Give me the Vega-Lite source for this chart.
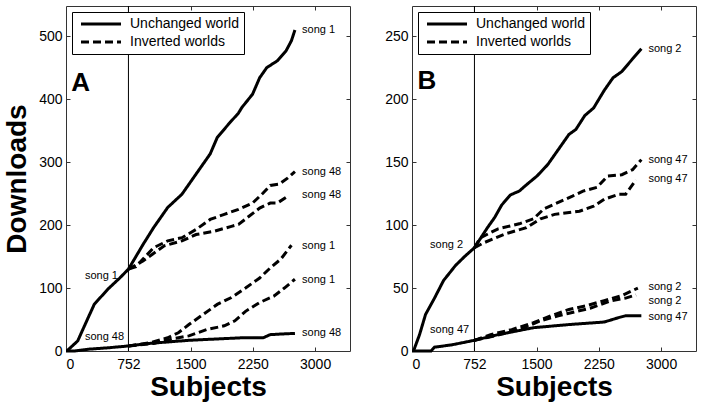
{
  "$schema": "https://vega.github.io/schema/vega-lite/v6.json",
  "padding": {"left": 3, "top": 5, "right": 0, "bottom": 0},
  "bounds": "flush",
  "spacing": 62,
  "datasets": {
    "linesA": [
      {"s":"u1","w":"Unchanged world","x":10,"y":0},{"s":"u1","w":"Unchanged world","x":141,"y":16},{"s":"u1","w":"Unchanged world","x":250,"y":48},{"s":"u1","w":"Unchanged world","x":340,"y":74},{"s":"u1","w":"Unchanged world","x":502,"y":98},{"s":"u1","w":"Unchanged world","x":648,"y":116},{"s":"u1","w":"Unchanged world","x":752,"y":130},{"s":"u1","w":"Unchanged world","x":927,"y":169},{"s":"u1","w":"Unchanged world","x":1055,"y":196},{"s":"u1","w":"Unchanged world","x":1225,"y":228},{"s":"u1","w":"Unchanged world","x":1396,"y":249},{"s":"u1","w":"Unchanged world","x":1566,"y":281},{"s":"u1","w":"Unchanged world","x":1736,"y":313},{"s":"u1","w":"Unchanged world","x":1821,"y":339},{"s":"u1","w":"Unchanged world","x":1949,"y":359},{"s":"u1","w":"Unchanged world","x":2077,"y":378},{"s":"u1","w":"Unchanged world","x":2119,"y":387},{"s":"u1","w":"Unchanged world","x":2247,"y":408},{"s":"u1","w":"Unchanged world","x":2332,"y":434},{"s":"u1","w":"Unchanged world","x":2417,"y":450},{"s":"u1","w":"Unchanged world","x":2545,"y":461},{"s":"u1","w":"Unchanged world","x":2651,"y":477},{"s":"u1","w":"Unchanged world","x":2715,"y":493},{"s":"u1","w":"Unchanged world","x":2757,"y":510},
      {"s":"u48","w":"Unchanged world","x":0,"y":0},{"s":"u48","w":"Unchanged world","x":100,"y":0},{"s":"u48","w":"Unchanged world","x":285,"y":3},{"s":"u48","w":"Unchanged world","x":500,"y":5},{"s":"u48","w":"Unchanged world","x":752,"y":8},{"s":"u48","w":"Unchanged world","x":1000,"y":12},{"s":"u48","w":"Unchanged world","x":1480,"y":17},{"s":"u48","w":"Unchanged world","x":1800,"y":19},{"s":"u48","w":"Unchanged world","x":2119,"y":21},{"s":"u48","w":"Unchanged world","x":2374,"y":21},{"s":"u48","w":"Unchanged world","x":2460,"y":26},{"s":"u48","w":"Unchanged world","x":2600,"y":27},{"s":"u48","w":"Unchanged world","x":2757,"y":28},
      {"s":"i48a","w":"Inverted worlds","x":752,"y":130},{"s":"i48a","w":"Inverted worlds","x":842,"y":134},{"s":"i48a","w":"Inverted worlds","x":1055,"y":164},{"s":"i48a","w":"Inverted worlds","x":1225,"y":175},{"s":"i48a","w":"Inverted worlds","x":1396,"y":180},{"s":"i48a","w":"Inverted worlds","x":1566,"y":193},{"s":"i48a","w":"Inverted worlds","x":1736,"y":209},{"s":"i48a","w":"Inverted worlds","x":1906,"y":217},{"s":"i48a","w":"Inverted worlds","x":2077,"y":225},{"s":"i48a","w":"Inverted worlds","x":2247,"y":235},{"s":"i48a","w":"Inverted worlds","x":2374,"y":251},{"s":"i48a","w":"Inverted worlds","x":2460,"y":263},{"s":"i48a","w":"Inverted worlds","x":2566,"y":265},{"s":"i48a","w":"Inverted worlds","x":2672,"y":275},{"s":"i48a","w":"Inverted worlds","x":2757,"y":285},
      {"s":"i48b","w":"Inverted worlds","x":752,"y":130},{"s":"i48b","w":"Inverted worlds","x":927,"y":143},{"s":"i48b","w":"Inverted worlds","x":1183,"y":167},{"s":"i48b","w":"Inverted worlds","x":1396,"y":175},{"s":"i48b","w":"Inverted worlds","x":1566,"y":185},{"s":"i48b","w":"Inverted worlds","x":1779,"y":190},{"s":"i48b","w":"Inverted worlds","x":1992,"y":198},{"s":"i48b","w":"Inverted worlds","x":2077,"y":201},{"s":"i48b","w":"Inverted worlds","x":2204,"y":214},{"s":"i48b","w":"Inverted worlds","x":2332,"y":227},{"s":"i48b","w":"Inverted worlds","x":2460,"y":235},{"s":"i48b","w":"Inverted worlds","x":2545,"y":235},{"s":"i48b","w":"Inverted worlds","x":2672,"y":246},
      {"s":"i1a","w":"Inverted worlds","x":752,"y":8},{"s":"i1a","w":"Inverted worlds","x":1013,"y":13},{"s":"i1a","w":"Inverted worlds","x":1225,"y":21},{"s":"i1a","w":"Inverted worlds","x":1353,"y":29},{"s":"i1a","w":"Inverted worlds","x":1480,"y":42},{"s":"i1a","w":"Inverted worlds","x":1651,"y":58},{"s":"i1a","w":"Inverted worlds","x":1821,"y":74},{"s":"i1a","w":"Inverted worlds","x":1992,"y":85},{"s":"i1a","w":"Inverted worlds","x":2162,"y":100},{"s":"i1a","w":"Inverted worlds","x":2332,"y":116},{"s":"i1a","w":"Inverted worlds","x":2460,"y":132},{"s":"i1a","w":"Inverted worlds","x":2587,"y":146},{"s":"i1a","w":"Inverted worlds","x":2715,"y":168},
      {"s":"i1b","w":"Inverted worlds","x":752,"y":8},{"s":"i1b","w":"Inverted worlds","x":1055,"y":12},{"s":"i1b","w":"Inverted worlds","x":1311,"y":20},{"s":"i1b","w":"Inverted worlds","x":1480,"y":24},{"s":"i1b","w":"Inverted worlds","x":1694,"y":34},{"s":"i1b","w":"Inverted worlds","x":1906,"y":40},{"s":"i1b","w":"Inverted worlds","x":2034,"y":48},{"s":"i1b","w":"Inverted worlds","x":2162,"y":63},{"s":"i1b","w":"Inverted worlds","x":2332,"y":77},{"s":"i1b","w":"Inverted worlds","x":2502,"y":87},{"s":"i1b","w":"Inverted worlds","x":2630,"y":100},{"s":"i1b","w":"Inverted worlds","x":2757,"y":114}
    ],
    "linesB": [
      {"s":"u2","w":"Unchanged world","x":18,"y":0},{"s":"u2","w":"Unchanged world","x":91,"y":13},{"s":"u2","w":"Unchanged world","x":163,"y":29},{"s":"u2","w":"Unchanged world","x":271,"y":42},{"s":"u2","w":"Unchanged world","x":380,"y":56},{"s":"u2","w":"Unchanged world","x":525,"y":68},{"s":"u2","w":"Unchanged world","x":633,"y":75},{"s":"u2","w":"Unchanged world","x":752,"y":82},{"s":"u2","w":"Unchanged world","x":909,"y":98},{"s":"u2","w":"Unchanged world","x":995,"y":106},{"s":"u2","w":"Unchanged world","x":1081,"y":116},{"s":"u2","w":"Unchanged world","x":1186,"y":124},{"s":"u2","w":"Unchanged world","x":1292,"y":127},{"s":"u2","w":"Unchanged world","x":1378,"y":132},{"s":"u2","w":"Unchanged world","x":1506,"y":139},{"s":"u2","w":"Unchanged world","x":1634,"y":148},{"s":"u2","w":"Unchanged world","x":1762,"y":160},{"s":"u2","w":"Unchanged world","x":1890,"y":172},{"s":"u2","w":"Unchanged world","x":1974,"y":176},{"s":"u2","w":"Unchanged world","x":2081,"y":187},{"s":"u2","w":"Unchanged world","x":2187,"y":193},{"s":"u2","w":"Unchanged world","x":2315,"y":207},{"s":"u2","w":"Unchanged world","x":2421,"y":217},{"s":"u2","w":"Unchanged world","x":2528,"y":222},{"s":"u2","w":"Unchanged world","x":2656,"y":232},{"s":"u2","w":"Unchanged world","x":2762,"y":240},
      {"s":"u47","w":"Unchanged world","x":0,"y":0},{"s":"u47","w":"Unchanged world","x":230,"y":0},{"s":"u47","w":"Unchanged world","x":271,"y":3},{"s":"u47","w":"Unchanged world","x":488,"y":5},{"s":"u47","w":"Unchanged world","x":752,"y":8.5},{"s":"u47","w":"Unchanged world","x":1037,"y":13},{"s":"u47","w":"Unchanged world","x":1463,"y":18.5},{"s":"u47","w":"Unchanged world","x":1890,"y":21},{"s":"u47","w":"Unchanged world","x":2315,"y":23},{"s":"u47","w":"Unchanged world","x":2488,"y":26.5},{"s":"u47","w":"Unchanged world","x":2573,"y":28},{"s":"u47","w":"Unchanged world","x":2762,"y":28},
      {"s":"i47a","w":"Inverted worlds","x":752,"y":82},{"s":"i47a","w":"Inverted worlds","x":824,"y":90},{"s":"i47a","w":"Inverted worlds","x":1037,"y":97},{"s":"i47a","w":"Inverted worlds","x":1292,"y":101},{"s":"i47a","w":"Inverted worlds","x":1463,"y":105},{"s":"i47a","w":"Inverted worlds","x":1590,"y":113},{"s":"i47a","w":"Inverted worlds","x":1762,"y":118},{"s":"i47a","w":"Inverted worlds","x":1932,"y":123},{"s":"i47a","w":"Inverted worlds","x":2059,"y":127},{"s":"i47a","w":"Inverted worlds","x":2229,"y":130},{"s":"i47a","w":"Inverted worlds","x":2357,"y":139},{"s":"i47a","w":"Inverted worlds","x":2528,"y":140},{"s":"i47a","w":"Inverted worlds","x":2656,"y":144},{"s":"i47a","w":"Inverted worlds","x":2762,"y":152},
      {"s":"i47b","w":"Inverted worlds","x":752,"y":82},{"s":"i47b","w":"Inverted worlds","x":867,"y":86},{"s":"i47b","w":"Inverted worlds","x":1122,"y":93},{"s":"i47b","w":"Inverted worlds","x":1378,"y":98},{"s":"i47b","w":"Inverted worlds","x":1548,"y":105},{"s":"i47b","w":"Inverted worlds","x":1718,"y":108.5},{"s":"i47b","w":"Inverted worlds","x":2017,"y":111},{"s":"i47b","w":"Inverted worlds","x":2187,"y":115},{"s":"i47b","w":"Inverted worlds","x":2315,"y":120.5},{"s":"i47b","w":"Inverted worlds","x":2488,"y":124.5},{"s":"i47b","w":"Inverted worlds","x":2573,"y":124.5},{"s":"i47b","w":"Inverted worlds","x":2698,"y":136},
      {"s":"i2a","w":"Inverted worlds","x":752,"y":8.5},{"s":"i2a","w":"Inverted worlds","x":946,"y":13},{"s":"i2a","w":"Inverted worlds","x":1201,"y":17},{"s":"i2a","w":"Inverted worlds","x":1463,"y":22.5},{"s":"i2a","w":"Inverted worlds","x":1676,"y":28},{"s":"i2a","w":"Inverted worlds","x":1890,"y":33},{"s":"i2a","w":"Inverted worlds","x":2102,"y":36},{"s":"i2a","w":"Inverted worlds","x":2315,"y":40},{"s":"i2a","w":"Inverted worlds","x":2528,"y":44},{"s":"i2a","w":"Inverted worlds","x":2720,"y":50},
      {"s":"i2b","w":"Inverted worlds","x":752,"y":8.5},{"s":"i2b","w":"Inverted worlds","x":995,"y":12},{"s":"i2b","w":"Inverted worlds","x":1292,"y":17},{"s":"i2b","w":"Inverted worlds","x":1548,"y":24},{"s":"i2b","w":"Inverted worlds","x":1762,"y":28},{"s":"i2b","w":"Inverted worlds","x":1890,"y":30},{"s":"i2b","w":"Inverted worlds","x":2145,"y":34},{"s":"i2b","w":"Inverted worlds","x":2400,"y":40},{"s":"i2b","w":"Inverted worlds","x":2573,"y":42},{"s":"i2b","w":"Inverted worlds","x":2698,"y":44.5}
    ],
    "labelsA": [
      {"x":2843,"y":510,"t":"song 1"},{"x":2843,"y":284,"t":"song 48"},{"x":2843,"y":248,"t":"song 48"},{"x":2843,"y":167,"t":"song 1"},{"x":2843,"y":113,"t":"song 1"},{"x":2843,"y":28,"t":"song 48"},{"x":228,"y":119,"t":"song 1"},{"x":228,"y":22,"t":"song 48"}
    ],
    "labelsB": [
      {"x":2847,"y":240,"t":"song 2"},{"x":2847,"y":152,"t":"song 47"},{"x":2847,"y":137,"t":"song 47"},{"x":2847,"y":51,"t":"song 2"},{"x":2847,"y":40,"t":"song 2"},{"x":2847,"y":27,"t":"song 47"},{"x":217,"y":84,"t":"song 2"},{"x":217,"y":17,"t":"song 47"}
    ]
  },
  "hconcat": [
    {
      "width": 284, "height": 345,
      "layer": [
        {
          "data": {"values": [{"x": 752}]},
          "mark": {"type": "rule", "color": "black", "strokeWidth": 1},
          "encoding": {"x": {"field": "x", "type": "quantitative", "axis": null}}
        },
        {
          "data": {"name": "linesA"},
          "mark": {"type": "line", "color": "black", "strokeWidth": 3},
          "encoding": {
            "x": {"field": "x", "type": "quantitative", "scale": {"domain": [0, 3420], "nice": false, "zero": false}, "axis": {"orient": "bottom", "values": [0, 752, 1500, 2250, 3000], "format": "d", "title": "Subjects"}},
            "y": {"field": "y", "type": "quantitative", "scale": {"domain": [0, 548], "nice": false}, "axis": {"orient": "left", "values": [0, 100, 200, 300, 400, 500], "title": "Downloads"}},
            "detail": {"field": "s"},
            "strokeDash": {"field": "w", "type": "nominal", "scale": {"domain": ["Unchanged world", "Inverted worlds"], "range": [[1, 0], [8, 4]]}, "legend": {"title": null}}
          }
        },
        {
          "data": {"name": "labelsA"},
          "mark": {"type": "text", "align": "left", "baseline": "middle", "fontSize": 11, "color": "black"},
          "encoding": {
            "x": {"field": "x", "type": "quantitative", "axis": {"orient": "top", "values": [752, 1500, 2250, 3000], "labels": false, "title": null}},
            "y": {"field": "y", "type": "quantitative", "axis": {"orient": "right", "values": [100, 200, 300, 400, 500], "labels": false, "title": null}},
            "text": {"field": "t"}
          }
        },
        {
          "data": {"values": [{"x": 62, "y": 413, "t": "A"}]},
          "mark": {"type": "text", "align": "left", "baseline": "alphabetic", "fontSize": 26, "fontWeight": "bold", "color": "black"},
          "encoding": {
            "x": {"field": "x", "type": "quantitative", "axis": null},
            "y": {"field": "y", "type": "quantitative", "axis": null},
            "text": {"field": "t"}
          }
        }
      ]
    },
    {
      "width": 284, "height": 345,
      "layer": [
        {
          "data": {"values": [{"x": 752}]},
          "mark": {"type": "rule", "color": "black", "strokeWidth": 1},
          "encoding": {"x": {"field": "x", "type": "quantitative", "axis": null}}
        },
        {
          "data": {"name": "linesB"},
          "mark": {"type": "line", "color": "black", "strokeWidth": 3},
          "encoding": {
            "x": {"field": "x", "type": "quantitative", "scale": {"domain": [0, 3420], "nice": false, "zero": false}, "axis": {"orient": "bottom", "values": [0, 752, 1500, 2250, 3000], "format": "d", "title": "Subjects"}},
            "y": {"field": "y", "type": "quantitative", "scale": {"domain": [0, 274], "nice": false}, "axis": {"orient": "left", "values": [0, 50, 100, 150, 200, 250], "title": null}},
            "detail": {"field": "s"},
            "strokeDash": {"field": "w", "type": "nominal", "scale": {"domain": ["Unchanged world", "Inverted worlds"], "range": [[1, 0], [8, 4]]}, "legend": {"title": null}}
          }
        },
        {
          "data": {"name": "labelsB"},
          "mark": {"type": "text", "align": "left", "baseline": "middle", "fontSize": 11, "color": "black"},
          "encoding": {
            "x": {"field": "x", "type": "quantitative", "axis": {"orient": "top", "values": [752, 1500, 2250, 3000], "labels": false, "title": null}},
            "y": {"field": "y", "type": "quantitative", "axis": {"orient": "right", "values": [50, 100, 150, 200, 250], "labels": false, "title": null}},
            "text": {"field": "t"}
          }
        },
        {
          "data": {"values": [{"x": 65, "y": 208, "t": "B"}]},
          "mark": {"type": "text", "align": "left", "baseline": "alphabetic", "fontSize": 26, "fontWeight": "bold", "color": "black"},
          "encoding": {
            "x": {"field": "x", "type": "quantitative", "axis": null},
            "y": {"field": "y", "type": "quantitative", "axis": null},
            "text": {"field": "t"}
          }
        }
      ]
    }
  ],
  "resolve": {"scale": {"strokeDash": "independent"}, "legend": {"strokeDash": "independent"}},
  "config": {
    "font": "Liberation Sans",
    "view": {"stroke": "#333333", "strokeWidth": 1},
    "axis": {
      "grid": false,
      "domain": false,
      "ticks": true,
      "tickColor": "#333333",
      "tickWidth": 1,
      "tickSize": 4,
      "offset": -4,
      "labelPadding": 4,
      "labelFont": "Liberation Sans",
      "labelFontSize": 14,
      "labelColor": "black",
      "titleFont": "Liberation Sans",
      "titleFontSize": 28,
      "titleFontWeight": "bold",
      "titleColor": "black",
      "titlePadding": 7
    },
    "axisX": {"labelPadding": 6, "titlePadding": 2},
    "legend": {
      "orient": "top-left",
      "offset": 6,
      "padding": 5,
      "strokeColor": "black",
      "fillColor": "white",
      "cornerRadius": 0,
      "symbolType": "M-4,0H4",
      "symbolSize": 100,
      "symbolStrokeWidth": 3,
      "symbolStrokeColor": "black",
      "symbolOffset": 17,
      "labelFont": "Liberation Sans",
      "labelFontSize": 14,
      "labelColor": "black",
      "labelOffset": 22,
      "rowPadding": 4
    }
  }
}
